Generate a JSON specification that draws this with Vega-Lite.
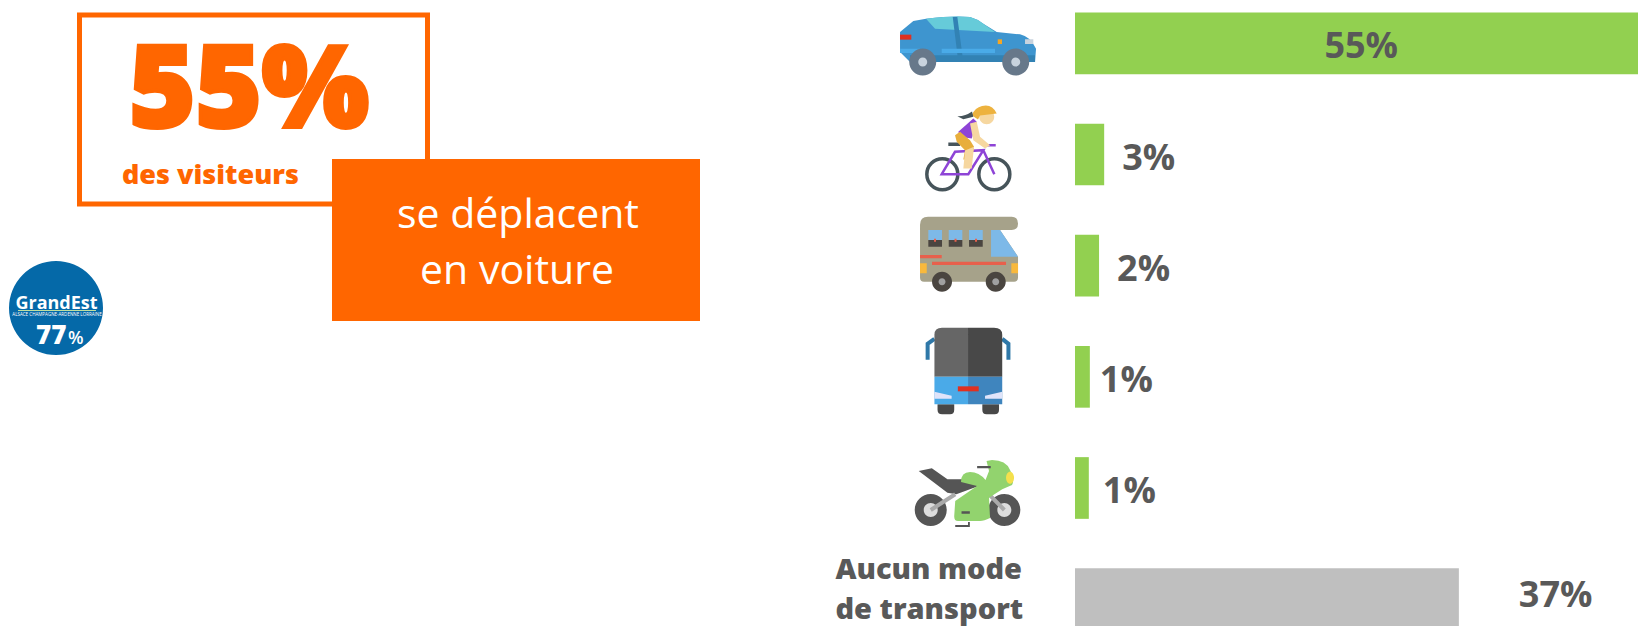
{
"$schema":"https://vega.github.io/schema/vega-lite/v6.json",
"width":1638,"height":626,"padding":0,"autosize":{"type":"fit","contains":"padding"},
"background":"white","view":{"stroke":null},
"layer":[
{"data":{"values":[{}]},"mark":{"type":"rect","x":79.5,"x2":427.5,"y":15,"y2":204,"fill":"white","stroke":"#FF6600","strokeWidth":5},"encoding":{}},
{"data":{"values":[{"t":"55%"}]},"mark":{"type":"text","x":249,"y":127,"align":"center","baseline":"alphabetic","font":"Open Sans","fontWeight":800,"fontSize":113,"fill":"#FF6600","stroke":"#FF6600","strokeWidth":4},"encoding":{"text":{"field":"t"}}},
{"data":{"values":[{"t":"des visiteurs"}]},"mark":{"type":"text","x":122,"y":184,"align":"left","baseline":"alphabetic","font":"Open Sans","fontWeight":800,"fontSize":27,"fill":"#FF6600"},"encoding":{"text":{"field":"t"}}},
{"data":{"values":[{}]},"mark":{"type":"rect","x":332,"x2":700,"y":159,"y2":321,"fill":"#FF6600"},"encoding":{}},
{"data":{"values":[{"t":"se déplacent"}]},"mark":{"type":"text","x":518,"y":228,"align":"center","baseline":"alphabetic","font":"Open Sans","fontWeight":400,"fontSize":41,"fill":"white"},"encoding":{"text":{"field":"t"}}},
{"data":{"values":[{"t":"en voiture"}]},"mark":{"type":"text","x":517,"y":284,"align":"center","baseline":"alphabetic","font":"Open Sans","fontWeight":400,"fontSize":41,"fill":"white"},"encoding":{"text":{"field":"t"}}},
{"data":{"values":[{}]},"mark":{"type":"point","shape":"circle","x":56,"y":308,"size":8836,"filled":true,"fill":"#0569A8","opacity":1,"strokeWidth":0},"encoding":{}},
{"data":{"values":[{"t":"GrandEst"}]},"mark":{"type":"text","x":56.5,"y":309,"align":"center","baseline":"alphabetic","font":"Open Sans","fontWeight":700,"fontSize":18,"fill":"white"},"encoding":{"text":{"field":"t"}}},
{"data":{"values":[{}]},"mark":{"type":"rect","x":18,"x2":96,"y":310,"y2":311,"fill":"#BFE0A0"},"encoding":{}},
{"data":{"values":[{"t":"ALSACE CHAMPAGNE-ARDENNE LORRAINE"}]},"mark":{"type":"text","x":57,"y":316,"align":"center","baseline":"alphabetic","font":"Open Sans","fontSize":4.5,"fill":"white"},"encoding":{"text":{"field":"t"}}},
{"data":{"values":[{"t":"77"}]},"mark":{"type":"text","x":36,"y":344,"align":"left","baseline":"alphabetic","font":"Open Sans","fontWeight":800,"fontSize":26,"fill":"white"},"encoding":{"text":{"field":"t"}}},
{"data":{"values":[{"t":"%"}]},"mark":{"type":"text","x":68,"y":344,"align":"left","baseline":"alphabetic","font":"Open Sans","fontWeight":600,"fontSize":18,"fill":"white"},"encoding":{"text":{"field":"t"}}},
{"data":{"values":[
{"mode":"Voiture","groupe":"mode","value":55,"label":"55%"},
{"mode":"Vélo","groupe":"mode","value":2.85,"label":"3%"},
{"mode":"Camping-car","groupe":"mode","value":2.35,"label":"2%"},
{"mode":"Bus","groupe":"mode","value":1.45,"label":"1%"},
{"mode":"Moto","groupe":"mode","value":1.35,"label":"1%"},
{"mode":"Aucun mode de transport","groupe":"aucun","value":37.5,"label":"37%"}
]},
"encoding":{
"x":{"field":"value","type":"quantitative","axis":null,"scale":{"domain":[0,55],"range":[1075,1638],"nice":false,"zero":false}},
"y":{"field":"mode","type":"nominal","axis":null,"scale":{"domain":["Voiture","Vélo","Camping-car","Bus","Moto","Aucun mode de transport"],"range":[12.5,630],"paddingInner":0.445,"paddingOuter":0}}
},
"layer":[
{"mark":{"type":"bar"},"encoding":{"color":{"field":"groupe","type":"nominal","legend":null,"scale":{"domain":["mode","aucun"],"range":["#92D050","#BFBFBF"]}}}},
{"transform":[{"filter":"datum.mode==='Voiture'"}],"mark":{"type":"text","align":"right","dx":-240,"dy":4,"font":"Open Sans","fontWeight":700,"fontSize":36,"fill":"#595959"},"encoding":{"text":{"field":"label"}}},
{"transform":[{"filter":"datum.mode==='Vélo'||datum.mode==='Camping-car'"}],"mark":{"type":"text","align":"left","dx":18,"dy":4,"font":"Open Sans","fontWeight":700,"fontSize":36,"fill":"#595959"},"encoding":{"text":{"field":"label"}}},
{"transform":[{"filter":"datum.mode==='Bus'"}],"mark":{"type":"text","align":"left","dx":10,"dy":4,"font":"Open Sans","fontWeight":700,"fontSize":36,"fill":"#595959"},"encoding":{"text":{"field":"label"}}},
{"transform":[{"filter":"datum.mode==='Moto'"}],"mark":{"type":"text","align":"left","dx":14,"dy":4,"font":"Open Sans","fontWeight":700,"fontSize":36,"fill":"#595959"},"encoding":{"text":{"field":"label"}}},
{"transform":[{"filter":"datum.mode==='Aucun mode de transport'"}],"mark":{"type":"text","align":"left","dx":60,"dy":-3,"font":"Open Sans","fontWeight":700,"fontSize":36,"fill":"#595959"},"encoding":{"text":{"field":"label"}}}
]},
{"data":{"values":[{"mode":"Aucun mode de transport","t":["Aucun mode","de transport"]}]},
"mark":{"type":"text","align":"left","baseline":"alphabetic","dy":-20,"lineHeight":40,"font":"Open Sans","fontWeight":800,"fontSize":29,"fill":"#595959"},
"encoding":{"x":{"datum":-23.4,"type":"quantitative"},"y":{"field":"mode","type":"nominal"},"text":{"field":"t"}}},
{"data":{"values":[{"mode":"Voiture"}]},
"encoding":{"x":{"datum":-10.45,"type":"quantitative"},"y":{"field":"mode","type":"nominal"}},
"layer":[
{"mark":{"type":"point","size":4,"filled":true,"opacity":1,"strokeWidth":0,"fill":"#3E95CF","shape":"M-68 -11.3 L-54.7 -22.3 L-42 -24.7 Q-14 -28 2 -26.3 Q10 -24 15.3 -19.7 L28.7 -11.3 L52 -9 Q62 -7 68 5.3 L67 18.7 L-58 18.7 L-68 8.7 Z"}},
{"mark":{"type":"point","size":4,"filled":true,"opacity":1,"strokeWidth":0,"fill":"#66CBD9","shape":"M-42 -24.7 Q-14 -28 2 -26.3 Q10 -24 15.3 -19.7 L27 -11.3 L-33 -14.7 Z"}},
{"mark":{"type":"point","size":4,"filled":true,"opacity":1,"strokeWidth":0,"fill":"#3282B4","shape":"M-15.3 -26.3 L-10.7 -26.3 L-4.7 18.7 L-9.7 18.7 Z M-58 12 L67 12 L67 18.7 L-58 18.7 Z"}},
{"mark":{"type":"point","size":4,"filled":true,"opacity":1,"strokeWidth":0,"fill":"#4AABE8","shape":"M-26.3 5.3 L27 5.3 L27 9.7 L-26.3 9.7 Z M-68 5.3 L-48 5.3 L-48 9.7 L-68 9.7 Z"}},
{"mark":{"type":"point","size":4,"filled":true,"opacity":1,"strokeWidth":0,"fill":"#E03020","shape":"M-68 -8.7 L-56.7 -8.7 L-56.7 -3.7 L-68 -3.7 Z"}},
{"mark":{"type":"point","size":4,"filled":true,"opacity":1,"strokeWidth":0,"fill":"#F5A623","shape":"M29.7 -4 L34 -4 L34 0.7 L29.7 0.7 Z"}},
{"mark":{"type":"point","size":4,"filled":true,"opacity":1,"strokeWidth":0,"fill":"#67788A","shape":"M-58.8 18.7 a13.5 13.5 0 1 0 27 0 a13.5 13.5 0 1 0 -27 0 Z M34.2 18.7 a13.5 13.5 0 1 0 27 0 a13.5 13.5 0 1 0 -27 0 Z"}},
{"mark":{"type":"point","size":4,"filled":true,"opacity":1,"strokeWidth":0,"fill":"#C8D3DE","shape":"M-49.8 18.7 a4.5 4.5 0 1 0 9 0 a4.5 4.5 0 1 0 -9 0 Z M43.2 18.7 a4.5 4.5 0 1 0 9 0 a4.5 4.5 0 1 0 -9 0 Z M57 -4 L65.3 -4 L65.3 0.7 L57 0.7 Z"}}
]},
{"data":{"values":[{"mode":"Vélo"}]},
"encoding":{"x":{"datum":-10.45,"type":"quantitative"},"y":{"field":"mode","type":"nominal"}},
"layer":[
{"mark":{"type":"point","size":4,"filled":false,"opacity":1,"stroke":"#46545A","strokeWidth":3.5,"shape":"M-41.2 19.7 a15.5 15.5 0 1 0 31 0 a15.5 15.5 0 1 0 -31 0 Z M10.8 19.7 a15.5 15.5 0 1 0 31 0 a15.5 15.5 0 1 0 -31 0 Z M-19.7 -10.3 L-8 -10.3"}},
{"mark":{"type":"point","size":4,"filled":false,"opacity":1,"stroke":"#8E44D6","strokeWidth":2.5,"shape":"M-26.3 19.7 L-13 -2.7 L15.3 -4.3 L0.3 19.7 Z M15.3 -4.3 L26.3 19.7 M17.7 -9.3 L27.7 -9.3"}},
{"mark":{"type":"point","size":4,"filled":true,"opacity":1,"strokeWidth":0,"fill":"#8E44D6","shape":"M-9.7 -22.7 L5.3 -36 L8.7 -32.7 L3.7 -16 L-8 -17.7 Z"}},
{"mark":{"type":"point","size":4,"filled":true,"opacity":1,"strokeWidth":0,"fill":"#E8AE3C","shape":"M-13 -19.3 L-8 -22.7 L2 -14.3 L6 -7.7 L3.7 5 L-4.7 5 L-3 -4.3 L-11.3 -12.7 Z"}},
{"mark":{"type":"point","size":4,"filled":true,"opacity":1,"strokeWidth":0,"fill":"#F6D7A0","shape":"M2 -31 L8.7 -32.7 L12 -17.7 L22 -9.3 L17 -6 L5.3 -14.3 Z M11.2 -37.7 a7.5 7.5 0 1 0 15 0 a7.5 7.5 0 1 0 -15 0 Z M-3 -4 L6 -7.7 L3.7 14 L-4.7 14 Z"}},
{"mark":{"type":"point","size":4,"filled":true,"opacity":1,"strokeWidth":0,"fill":"#EDB23E","shape":"M3.7 -39.3 Q7 -47 14 -48.5 Q24 -51 28.7 -41 L12 -39 L10 -35 Z"}},
{"mark":{"type":"point","size":4,"filled":true,"opacity":1,"strokeWidth":0,"fill":"#46545A","shape":"M-10.7 -38.3 Q-3 -38 4 -43 L5.3 -37.7 L-4.7 -35.3 Z"}}
]},
{"data":{"values":[{"mode":"Camping-car"}]},
"encoding":{"x":{"datum":-10.45,"type":"quantitative"},"y":{"field":"mode","type":"nominal"}},
"layer":[
{"mark":{"type":"point","size":4,"filled":true,"opacity":1,"strokeWidth":0,"fill":"#A6A28A","shape":"M-48 -41 Q-48 -49 -40 -49 L43.7 -49 Q50 -49 50 -42 Q50 -35.7 43.7 -35.7 L32 -35.7 L50 -9 L50 12 Q50 16 46 16 L-44 16 Q-48 16 -48 12 Z"}},
{"mark":{"type":"point","size":4,"filled":true,"opacity":1,"strokeWidth":0,"fill":"#7DB9E8","shape":"M23 -35.7 L32 -35.7 L50 -9 L23 -9 Z M-39.7 -35.7 L-26 -35.7 L-26 -25.7 L-39.7 -25.7 Z M-19.3 -35.7 L-5.7 -35.7 L-5.7 -25.7 L-19.3 -25.7 Z M1 -35.7 L14.7 -35.7 L14.7 -25.7 L1 -25.7 Z"}},
{"mark":{"type":"point","size":4,"filled":true,"opacity":1,"strokeWidth":0,"fill":"#4A4540","shape":"M-39.7 -25.7 L-26 -25.7 L-26 -19 L-39.7 -19 Z M-19.3 -25.7 L-5.7 -25.7 L-5.7 -19 L-19.3 -19 Z M1 -25.7 L14.7 -25.7 L14.7 -19 L1 -19 Z M-36 16 a10 10 0 1 0 20 0 a10 10 0 1 0 -20 0 Z M17.7 16 a10 10 0 1 0 20 0 a10 10 0 1 0 -20 0 Z"}},
{"mark":{"type":"point","size":4,"filled":true,"opacity":1,"strokeWidth":0,"fill":"#E8604C","shape":"M-36 -4 L38 -4 L38 -0.7 L-36 -0.7 Z M-48 -10.7 L-26.3 -10.7 L-26.3 -7.3 L-48 -7.3 Z M-34 -27 L-32 -27 L-32 -24 L-34 -24 Z M-13.5 -27 L-11.5 -27 L-11.5 -24 L-13.5 -24 Z M7 -27 L9 -27 L9 -24 L7 -24 Z"}},
{"mark":{"type":"point","size":4,"filled":true,"opacity":1,"strokeWidth":0,"fill":"#F9B93C","shape":"M-48 -2.3 L-41.3 -2.3 L-41.3 7.7 L-48 7.7 Z M43.3 -2.3 L50 -2.3 L50 7.7 L43.3 7.7 Z"}},
{"mark":{"type":"point","size":4,"filled":true,"opacity":1,"strokeWidth":0,"fill":"#A0A0A0","shape":"M-29.5 16 a3.5 3.5 0 1 0 7 0 a3.5 3.5 0 1 0 -7 0 Z M24.2 16 a3.5 3.5 0 1 0 7 0 a3.5 3.5 0 1 0 -7 0 Z"}}
]},
{"data":{"values":[{"mode":"Bus"}]},
"encoding":{"x":{"datum":-10.45,"type":"quantitative"},"y":{"field":"mode","type":"nominal"}},
"layer":[
{"mark":{"type":"point","size":4,"filled":false,"opacity":1,"stroke":"#2F78A8","strokeWidth":4,"shape":"M-33.6 -38 L-40.4 -33 L-40.4 -17 M34.2 -38 L40.4 -33 L40.4 -17"}},
{"mark":{"type":"point","size":4,"filled":true,"opacity":1,"strokeWidth":0,"fill":"#666666","shape":"M-33.6 0 L-33.6 -42 Q-33.6 -49 -26 -49 L0 -49 L0 0 Z"}},
{"mark":{"type":"point","size":4,"filled":true,"opacity":1,"strokeWidth":0,"fill":"#484848","shape":"M0 -49 L26 -49 Q34.2 -49 34.2 -42 L34.2 0 L0 0 Z M-30.5 27.5 L-13.8 27.5 L-13.8 33 Q-13.8 37.5 -18 37.5 L-26 37.5 Q-30.5 37.5 -30.5 33 Z M14.3 27.5 L31 27.5 L31 33 Q31 37.5 26.5 37.5 L18.5 37.5 Q14.3 37.5 14.3 33 Z"}},
{"mark":{"type":"point","size":4,"filled":true,"opacity":1,"strokeWidth":0,"fill":"#4AAAE8","shape":"M-33.6 0 L0 0 L0 27.5 L-33.6 27.5 Z"}},
{"mark":{"type":"point","size":4,"filled":true,"opacity":1,"strokeWidth":0,"fill":"#3F85BE","shape":"M0 0 L34.2 0 L34.2 27.5 L0 27.5 Z"}},
{"mark":{"type":"point","size":4,"filled":true,"opacity":1,"strokeWidth":0,"fill":"#E03020","shape":"M-10.2 9.5 L10.7 9.5 L10.7 14.5 L-10.2 14.5 Z"}},
{"mark":{"type":"point","size":4,"filled":true,"opacity":1,"strokeWidth":0,"fill":"#E0E4FA","shape":"M-33.6 15 L-16.4 19 L-16.4 22 L-33.6 22 Z M34.2 15 L17 19 L17 22 L34.2 22 Z"}}
]},
{"data":{"values":[{"mode":"Moto"}]},
"encoding":{"x":{"datum":-10.45,"type":"quantitative"},"y":{"field":"mode","type":"nominal"}},
"layer":[
{"mark":{"type":"point","size":4,"filled":true,"opacity":1,"strokeWidth":0,"fill":"#555555","shape":"M-53.3 22 a16 16 0 1 0 32 0 a16 16 0 1 0 -32 0 Z M20.3 22 a16 16 0 1 0 32 0 a16 16 0 1 0 -32 0 Z M-49.3 -17 L-36.2 -19.7 L-20.6 -8.7 L2.9 -8.7 L10.7 -2 L-11.7 6.3 L-20.6 4.7 Z"}},
{"mark":{"type":"point","size":4,"filled":true,"opacity":1,"strokeWidth":0,"fill":"#DDDDDD","shape":"M-44.3 22 a7 7 0 1 0 14 0 a7 7 0 1 0 -14 0 Z M29.3 22 a7 7 0 1 0 14 0 a7 7 0 1 0 -14 0 Z"}},
{"mark":{"type":"point","size":4,"filled":false,"opacity":1,"stroke":"#AAAAAA","strokeWidth":4,"shape":"M-37.3 22 L-12.8 6.3 M36.3 22 L21 6.3"}},
{"mark":{"type":"point","size":4,"filled":true,"opacity":1,"strokeWidth":0,"fill":"#92D36E","shape":"M24 -28 Q38 -28 42 -18 Q47 -8 44 -3 L34.2 1.3 L21 9.7 L22 30 Q16 33 12 33 L-10 33 Q-14 33 -13.8 28 L-12.8 13 L9 -2 L-7 -6 Q-7 -16 2 -16 Q11 -16 17.5 -8 L21 -17 L18.5 -27 Z"}},
{"mark":{"type":"point","size":4,"filled":true,"opacity":1,"strokeWidth":0,"fill":"#F4E04D","shape":"M38 -10.3 a4 6 0 1 0 8 0 a4 6 0 1 0 -8 0 Z"}},
{"mark":{"type":"point","size":4,"filled":true,"opacity":1,"strokeWidth":0,"fill":"#555555","shape":"M-12.8 37 L1.8 37 L1.8 39 L-12.8 39 Z M0 34 L1.8 34 L1.8 39 L0 39 Z M9.1 -22 L22.7 -22 L22.7 -19.7 L9.1 -19.7 Z M-6.5 23.3 L1.8 23.3 L1.8 25.7 L-6.5 25.7 Z"}}
]}
]
}
